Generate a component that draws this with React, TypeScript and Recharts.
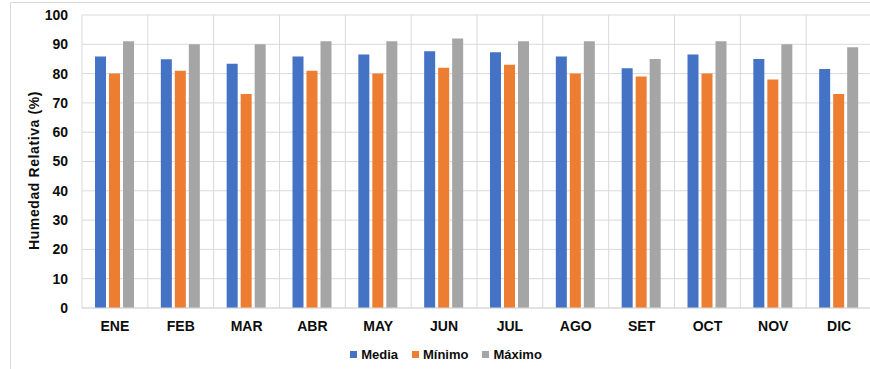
import { Bar, BarChart, CartesianGrid, Legend, XAxis, YAxis } from "recharts";

const months = ["ENE", "FEB", "MAR", "ABR", "MAY", "JUN", "JUL", "AGO", "SET", "OCT", "NOV", "DIC"];
const media = [85.8, 84.9, 83.4, 85.8, 86.5, 87.6, 87.3, 85.8, 81.8, 86.5, 85.0, 81.6];
const minimo = [80, 81, 73, 81, 80, 82, 83, 80, 79, 80, 78, 73];
const maximo = [91, 90, 90, 91, 91, 92, 91, 91, 85, 91, 90, 89];
const yTicks = [0, 10, 20, 30, 40, 50, 60, 70, 80, 90, 100];

const series = [
  { key: "media", name: "Media", color: "#4472C4" },
  { key: "minimo", name: "Mínimo", color: "#ED7D31" },
  { key: "maximo", name: "Máximo", color: "#A5A5A5" },
];

const data = months.map((m, i) => ({
  month: m,
  media: media[i],
  minimo: minimo[i],
  maximo: maximo[i],
}));

const font = "'Liberation Sans', Arial, sans-serif";
const tickStyle = { fill: "#0d0d0d", fontSize: 14, fontWeight: 700, fontFamily: font };

function LegendContent() {
  return (
    <div
      style={{
        height: 30,
        display: "flex",
        justifyContent: "center",
        alignItems: "center",
        paddingLeft: 20,
        paddingTop: 1,
        boxSizing: "border-box",
        fontFamily: font,
        fontSize: 13,
        fontWeight: 700,
        color: "#0d0d0d",
      }}
    >
      {series.map((s) => (
        <div key={s.key} style={{ display: "flex", alignItems: "center", margin: "0 7px" }}>
          <span style={{ width: 7, height: 7, background: s.color, marginRight: 4, display: "inline-block" }} />
          <span>{s.name}</span>
        </div>
      ))}
    </div>
  );
}

export default function App() {
  return (
    <div style={{ position: "fixed", inset: 0, overflow: "hidden", background: "#fff" }}>
      <div
        style={{
          position: "absolute",
          left: 10,
          top: 2,
          width: 900,
          height: 420,
          border: "1px solid #d9d9d9",
        }}
      />
      <div style={{ position: "absolute", left: 0, top: 0 }}>
        <BarChart
          width={880}
          height={369}
          data={data}
          margin={{ top: 15, right: 8, bottom: 0, left: 0 }}
          barSize={11}
          barGap={3}
        >
          <CartesianGrid
            stroke="#d9d9d9"
            verticalCoordinatesGenerator={({ offset }: any) =>
              months.map((_, i) => offset.left + (i * offset.width) / months.length)
            }
          />
          <XAxis
            dataKey="month"
            tick={tickStyle}
            tickLine={false}
            tickMargin={7}
            axisLine={{ stroke: "#d9d9d9" }}
            height={31}
          />
          <YAxis
            domain={[0, 100]}
            ticks={yTicks}
            tick={tickStyle}
            tickLine={false}
            tickMargin={8}
            axisLine={false}
            width={82}
            label={{
              content: ({ viewBox }: any) => {
                const cx = 34;
                const cy = viewBox.y + viewBox.height / 2 + 9;
                return (
                  <text
                    x={cx}
                    y={cy}
                    transform={`rotate(-90, ${cx}, ${cy})`}
                    textAnchor="middle"
                    dominantBaseline="central"
                    fill="#0d0d0d"
                    fontSize={14}
                    fontWeight={700}
                    fontFamily={font}
                    letterSpacing={0.6}
                  >
                    Humedad Relativa (%)
                  </text>
                );
              },
            }}
          />
          <Legend verticalAlign="bottom" height={30} content={() => <LegendContent />} />
          {series.map((s) => (
            <Bar key={s.key} dataKey={s.key} name={s.name} fill={s.color} isAnimationActive={false} />
          ))}
        </BarChart>
      </div>
    </div>
  );
}
